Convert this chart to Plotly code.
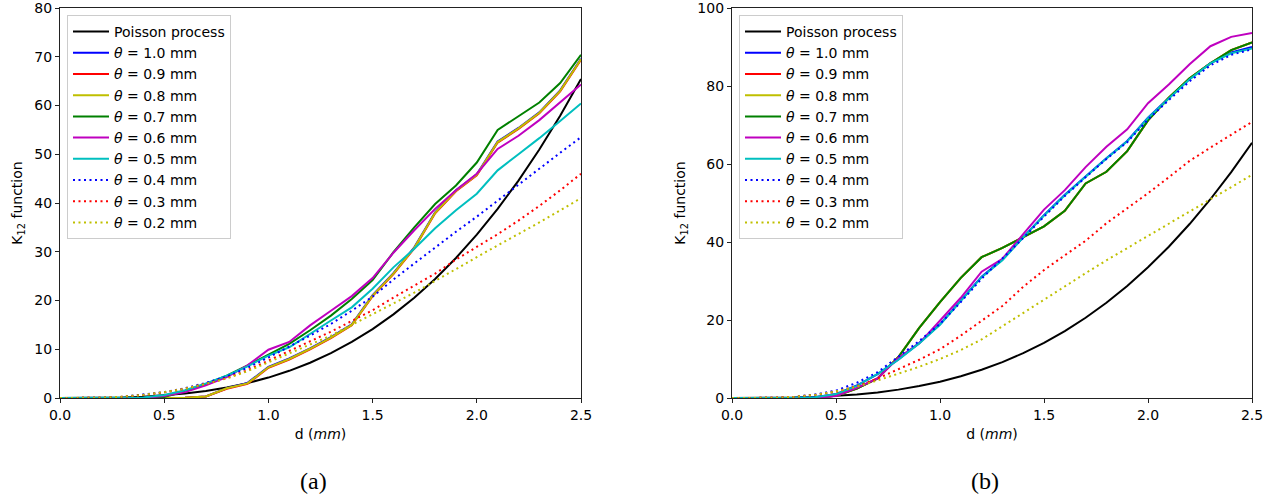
import plotly.graph_objects as go

d = [round(i * 0.1, 1) for i in range(26)]

# ---------- panel (a) ----------
a_poisson = [0, 0.004, 0.034, 0.113, 0.268, 0.524, 0.905, 1.437, 2.145, 3.054, 4.189, 5.575, 7.238, 9.203,
             11.494, 14.137, 17.157, 20.580, 24.429, 28.731, 33.510, 38.792, 44.602, 50.965, 57.906, 65.450]
a_t10 = [0, 0, 0, 0, 0, 0, 0.05, 0.3, 2.0, 3.1, 6.4, 8.1, 10.2, 12.5, 15.1, 21.1, 25.6, 30.9, 38.1, 42.6,
         45.9, 52.6, 55.4, 58.6, 63.1, 69.6]
a_t09 = [0, 0, 0, 0, 0, 0, 0.05, 0.3, 1.9, 2.9, 6.2, 7.9, 10.0, 12.3, 14.9, 20.9, 25.4, 30.7, 37.9, 42.4,
         45.7, 52.4, 55.2, 58.4, 62.9, 69.4]
a_t08 = [0, 0, 0, 0, 0, 0, 0.05, 0.3, 2.0, 3.0, 6.3, 8.0, 10.1, 12.4, 15.0, 21.0, 25.5, 30.8, 38.0, 42.5,
         45.8, 52.5, 55.3, 58.5, 63.0, 69.5]
a_t07 = [0, 0, 0, 0, 0.02, 0.2, 1.4, 2.9, 4.6, 6.7, 8.9, 11.1, 13.9, 16.9, 20.3, 24.2, 29.9, 35.0, 39.8, 43.6,
         48.3, 55.0, 57.8, 60.6, 64.6, 70.4]
a_t06 = [0, 0, 0, 0, 0.02, 0.4, 1.2, 2.6, 4.3, 6.7, 9.9, 11.5, 14.9, 17.9, 20.9, 24.6, 29.8, 34.4, 38.8, 42.6,
         46.0, 51.1, 53.8, 57.0, 60.6, 64.3]
a_t05 = [0, 0, 0, 0, 0.1, 0.6, 1.6, 3.0, 4.6, 6.5, 8.7, 10.4, 13.2, 15.9, 18.6, 22.4, 26.8, 30.6, 34.8, 38.5,
         41.9, 46.7, 50.0, 53.3, 56.8, 60.4]
a_t04 = [0, 0, 0.05, 0.25, 0.65, 1.2, 2.0, 3.1, 4.4, 6.2, 8.3, 10.5, 12.8, 15.2, 17.9, 20.8, 24.3, 27.6, 30.9,
         34.1, 37.2, 40.5, 43.8, 47.1, 50.3, 53.5]
a_t03 = [0, 0, 0.05, 0.25, 0.6, 1.15, 1.9, 2.9, 4.1, 5.7, 7.7, 9.6, 11.6, 13.6, 15.8, 18.0, 20.6, 23.0, 25.5,
         28.4, 31.0, 33.6, 36.4, 39.4, 42.6, 46.0]
a_t02 = [0, 0, 0.06, 0.28, 0.65, 1.2, 1.9, 2.9, 4.0, 5.5, 7.3, 9.1, 10.9, 12.8, 15.0, 17.2, 19.3, 21.6, 24.0,
         26.5, 28.9, 31.3, 33.6, 36.0, 38.5, 41.0]

# ---------- panel (b) ----------
b_poisson = a_poisson
b_t10 = [0, 0, 0, 0.05, 0.2, 1.0, 3.2, 6.1, 9.9, 14.1, 18.9, 24.9, 31.1, 35.5, 41.3, 46.9, 52.1, 56.8, 61.5,
         65.9, 71.9, 76.9, 81.8, 85.9, 88.6, 90.0]
b_t09 = [0, 0, 0, 0, 0.05, 0.6, 2.4, 5.0, 10.5, 18.0, 24.6, 30.8, 36.1, 38.5, 41.3, 44.0, 48.0, 55.0, 58.0,
         63.3, 71.2, 77.0, 82.0, 85.8, 89.2, 91.2]
b_t08 = [0, 0, 0, 0, 0.05, 0.6, 2.4, 5.0, 10.5, 18.0, 24.6, 30.8, 36.1, 38.5, 41.3, 44.0, 48.0, 55.0, 58.0,
         63.3, 71.2, 77.0, 82.0, 85.8, 89.2, 91.2]
b_t07 = [0, 0, 0, 0, 0.05, 0.6, 2.4, 5.0, 10.5, 18.0, 24.6, 30.8, 36.1, 38.5, 41.3, 44.0, 48.0, 55.0, 58.0,
         63.3, 71.2, 77.0, 82.0, 85.8, 89.2, 91.2]
b_t06 = [0, 0, 0, 0, 0.05, 0.5, 2.6, 5.0, 10.3, 14.0, 19.8, 25.7, 32.4, 35.7, 42.0, 48.3, 53.3, 59.2, 64.4,
         68.9, 75.6, 80.4, 85.6, 90.2, 92.6, 93.6]
b_t05 = [0, 0, 0, 0.05, 0.2, 1.0, 3.1, 6.2, 9.8, 14.0, 18.8, 24.8, 31.0, 35.3, 41.2, 46.8, 52.0, 56.7, 61.4,
         65.8, 71.8, 76.8, 81.7, 85.8, 88.4, 89.6]
b_t04 = [0, 0, 0.05, 0.3, 0.9, 1.9, 3.9, 6.6, 10.6, 14.6, 19.0, 24.6, 30.6, 35.8, 41.0, 46.5, 51.8, 56.6, 61.3,
         65.6, 71.4, 76.4, 81.2, 85.3, 88.0, 89.4]
b_t03 = [0, 0, 0.05, 0.3, 0.8, 1.6, 3.0, 5.0, 7.4, 9.8, 12.5, 16.0, 19.8, 23.6, 28.5, 32.8, 36.6, 40.3, 44.8,
         48.6, 52.5, 56.6, 60.8, 64.2, 67.5, 70.8]
b_t02 = [0, 0, 0.05, 0.3, 0.8, 1.7, 2.9, 4.5, 6.2, 8.0, 10.0, 12.3, 15.0, 18.4, 22.0, 25.3, 28.6, 32.0, 35.3,
         38.4, 41.6, 44.7, 47.8, 50.8, 54.0, 57.2]

names = ["Poisson process", "<i>θ</i> = 1.0 mm", "<i>θ</i> = 0.9 mm", "<i>θ</i> = 0.8 mm",
         "<i>θ</i> = 0.7 mm", "<i>θ</i> = 0.6 mm", "<i>θ</i> = 0.5 mm", "<i>θ</i> = 0.4 mm",
         "<i>θ</i> = 0.3 mm", "<i>θ</i> = 0.2 mm"]
colors = ["#000000", "#0000ff", "#ff0000", "#bfbf00", "#008000", "#bf00bf", "#00bfbf",
          "#0000ff", "#ff0000", "#bfbf00"]
dashes = ["solid"] * 7 + ["2px,3.5px"] * 3

panel_a = [a_poisson, a_t10, a_t09, a_t08, a_t07, a_t06, a_t05, a_t04, a_t03, a_t02]
panel_b = [b_poisson, b_t10, b_t09, b_t08, b_t07, b_t06, b_t05, b_t04, b_t03, b_t02]

FONT = "DejaVu Sans"
fig = go.Figure()
for i, ys in enumerate(panel_a):
    fig.add_trace(go.Scatter(x=d, y=ys, mode="lines", name=names[i], xaxis="x", yaxis="y",
                             legend="legend",
                             line=dict(color=colors[i], width=2, dash=dashes[i])))
for i, ys in enumerate(panel_b):
    fig.add_trace(go.Scatter(x=d, y=ys, mode="lines", name=names[i], xaxis="x2", yaxis="y2",
                             legend="legend2",
                             line=dict(color=colors[i], width=2, dash=dashes[i])))

W, H = 1278, 500
ax_common = dict(showline=True, linecolor="#222222", linewidth=1.2, mirror=True, ticks="outside",
                 ticklen=4, tickwidth=1, tickcolor="#222222", showgrid=False, zeroline=False,
                 automargin=False, ticklabeloverflow="allow",
                 tickfont=dict(family=FONT, size=14, color="#000000"))
title_font = dict(family=FONT, size=14, color="#000000")

fig.update_layout(
    width=W, height=H,
    margin=dict(l=0, r=0, t=0, b=0, autoexpand=False),
    paper_bgcolor="white", plot_bgcolor="white",
    font=dict(family=FONT, size=14, color="#000000"),
    xaxis=dict(domain=[60 / W, 581 / W], range=[0, 2.5], dtick=0.5, tickformat=".1f",
               title=dict(text="d (<i>mm</i>)", font=title_font, standoff=7),
               anchor="y", **ax_common),
    yaxis=dict(domain=[(H - 398) / H, (H - 8) / H], range=[0, 80], dtick=10,
               title=dict(text="K<sub>12</sub> function", font=title_font, standoff=8),
               anchor="x", **ax_common),
    xaxis2=dict(domain=[732 / W, 1252 / W], range=[0, 2.5], dtick=0.5, tickformat=".1f",
                title=dict(text="d (<i>mm</i>)", font=title_font, standoff=7),
                anchor="y2", **ax_common),
    yaxis2=dict(domain=[(H - 398) / H, (H - 8) / H], range=[0, 100], dtick=20,
                title=dict(text="K<sub>12</sub> function", font=title_font, standoff=8),
                anchor="x2", **ax_common),
    legend=dict(x=67 / W, y=(H - 15) / H, xanchor="left", yanchor="top",
                bgcolor="rgba(255,255,255,0.85)", bordercolor="#cccccc", borderwidth=1,
                font=dict(family=FONT, size=14), tracegroupgap=0, itemwidth=36),
    legend2=dict(x=739 / W, y=(H - 15) / H, xanchor="left", yanchor="top",
                 bgcolor="rgba(255,255,255,0.85)", bordercolor="#cccccc", borderwidth=1,
                 font=dict(family=FONT, size=14), tracegroupgap=0, itemwidth=36),
    annotations=[
        dict(text="(a)", x=313 / W, y=(H - 481) / H, xref="paper", yref="paper", showarrow=False,
             xanchor="center", yanchor="middle",
             font=dict(family="Liberation Serif", size=24)),
        dict(text="(b)", x=985 / W, y=(H - 481) / H, xref="paper", yref="paper", showarrow=False,
             xanchor="center", yanchor="middle",
             font=dict(family="Liberation Serif", size=24)),
    ],
)

fig.write_html("out.html", config={"displayModeBar": False},
               post_script="document.body.style.margin='0';")
